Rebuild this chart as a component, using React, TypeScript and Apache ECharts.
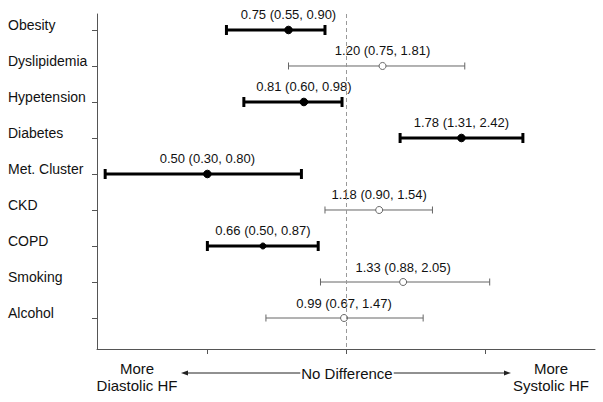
import React, { useEffect, useRef } from "react";
import * as echarts from "echarts";

const categories = ["Obesity", "Dyslipidemia", "Hypetension", "Diabetes", "Met. Cluster", "CKD", "COPD", "Smoking", "Alcohol"];
const estimates = [0.75, 1.2, 0.81, 1.78, 0.5, 1.18, 0.66, 1.33, 0.99];
const lower = [0.55, 0.75, 0.6, 1.31, 0.3, 0.9, 0.5, 0.88, 0.67];
const upper = [0.9, 1.81, 0.98, 2.42, 0.8, 1.54, 0.87, 2.05, 1.47];
const significant = [1, 0, 1, 1, 1, 0, 1, 0, 0];
const xTicks = [0.5, 1, 2];
const rowIndex = [0, 1, 2, 3, 4, 5, 6, 7, 8];

const FONT = "'Liberation Sans', Arial, Helvetica, sans-serif";

export default function App() {
  const ref = useRef<HTMLDivElement>(null);
  useEffect(() => {
    if (!ref.current) return;
    const chart = echarts.init(ref.current, null, { renderer: "svg" });
    const data = categories.map((_, i) => [lower[i], upper[i], estimates[i], i, significant[i]]);
    const option: any = {
      animation: false,
      backgroundColor: "#ffffff",
      textStyle: { fontFamily: FONT },
      grid: { left: 97, right: 8, top: 14, bottom: 53 },
      xAxis: {
        type: "log",
        logBase: 2,
        min: 0.288,
        max: 3.47,
        axisLine: { show: true, onZero: false, lineStyle: { color: "#555", width: 1 } },
        axisTick: { show: true, length: 5, customValues: xTicks, lineStyle: { color: "#555" } },
        axisLabel: { show: false },
        splitLine: { show: false },
      },
      yAxis: {
        type: "value",
        inverse: true,
        min: -0.444,
        max: 8.861,
        axisLine: { show: true, onZero: false, lineStyle: { color: "#555", width: 1 } },
        axisTick: { show: true, length: 5, customValues: rowIndex, lineStyle: { color: "#555" } },
        axisLabel: {
          show: true,
          customValues: rowIndex,
          formatter: (v: number) => categories[Math.round(v)] ?? "",
          align: "left",
          verticalAlign: "bottom",
          lineHeight: 10,
          margin: 89,
          fontSize: 14,
          color: "#111",
          fontFamily: FONT,
        },
        splitLine: { show: false },
      },
      series: [
        {
          type: "custom",
          data,
          encode: { x: [0, 1, 2], y: 3 },
          clip: false,
          renderItem: (params: any, api: any) => {
            const lo = api.value(0);
            const hi = api.value(1);
            const est = api.value(2);
            const row = api.value(3);
            const sig = api.value(4) === 1;
            const pLo = api.coord([lo, row]);
            const pHi = api.coord([hi, row]);
            const pE = api.coord([est, row]);
            const color = sig ? "#000" : "#666";
            const lw = sig ? 3 : 1;
            const cap = sig ? 5 : 3.5;
            const r = sig ? (row === 6 ? 3 : 3.8) : 3.5;
            const label = `${est.toFixed(2)} (${lo.toFixed(2)}, ${hi.toFixed(2)})`;
            return {
              type: "group",
              children: [
                { type: "line", shape: { x1: pLo[0], y1: pLo[1], x2: pHi[0], y2: pHi[1] }, style: { stroke: color, lineWidth: lw } },
                { type: "line", shape: { x1: pLo[0], y1: pLo[1] - cap, x2: pLo[0], y2: pLo[1] + cap }, style: { stroke: color, lineWidth: lw } },
                { type: "line", shape: { x1: pHi[0], y1: pHi[1] - cap, x2: pHi[0], y2: pHi[1] + cap }, style: { stroke: color, lineWidth: lw } },
                { type: "circle", shape: { cx: pE[0], cy: pE[1], r }, style: { fill: sig ? "#000" : "#fff", stroke: color, lineWidth: 1 } },
                {
                  type: "text",
                  x: pE[0],
                  y: pE[1] - 15,
                  style: { text: label, fill: "#111", font: `13px ${FONT}`, align: "center", verticalAlign: "middle" },
                },
              ],
            };
          },
          markLine: {
            silent: true,
            symbol: "none",
            label: { show: false },
            lineStyle: { color: "#999", type: [4, 3], width: 1 },
            data: [{ xAxis: 1 }],
          },
        },
      ],
      graphic: [
        { type: "line", shape: { x1: 186, y1: 373, x2: 506, y2: 373 }, style: { stroke: "#222", lineWidth: 1 } },
        { type: "polygon", shape: { points: [[181, 373], [188, 370.5], [188, 375.5]] }, style: { fill: "#222" } },
        { type: "polygon", shape: { points: [[511, 373], [504, 370.5], [504, 375.5]] }, style: { fill: "#222" } },
        {
          type: "text",
          x: 347,
          y: 373,
          style: { text: "No Difference", fill: "#111", font: `15px ${FONT}`, align: "center", verticalAlign: "middle", backgroundColor: "#fff", padding: [2, 1] },
        },
        {
          type: "text",
          x: 137,
          y: 377,
          style: { text: "More\nDiastolic HF", fill: "#111", font: `15px ${FONT}`, align: "center", verticalAlign: "middle", lineHeight: 17 },
        },
        {
          type: "text",
          x: 551,
          y: 377,
          style: { text: "More\nSystolic HF", fill: "#111", font: `15px ${FONT}`, align: "center", verticalAlign: "middle", lineHeight: 17 },
        },
      ],
    };
    chart.setOption(option);
    return () => chart.dispose();
  }, []);
  return <div ref={ref} style={{ position: "fixed", left: 0, top: 0, width: 603, height: 402 }} />;
}
